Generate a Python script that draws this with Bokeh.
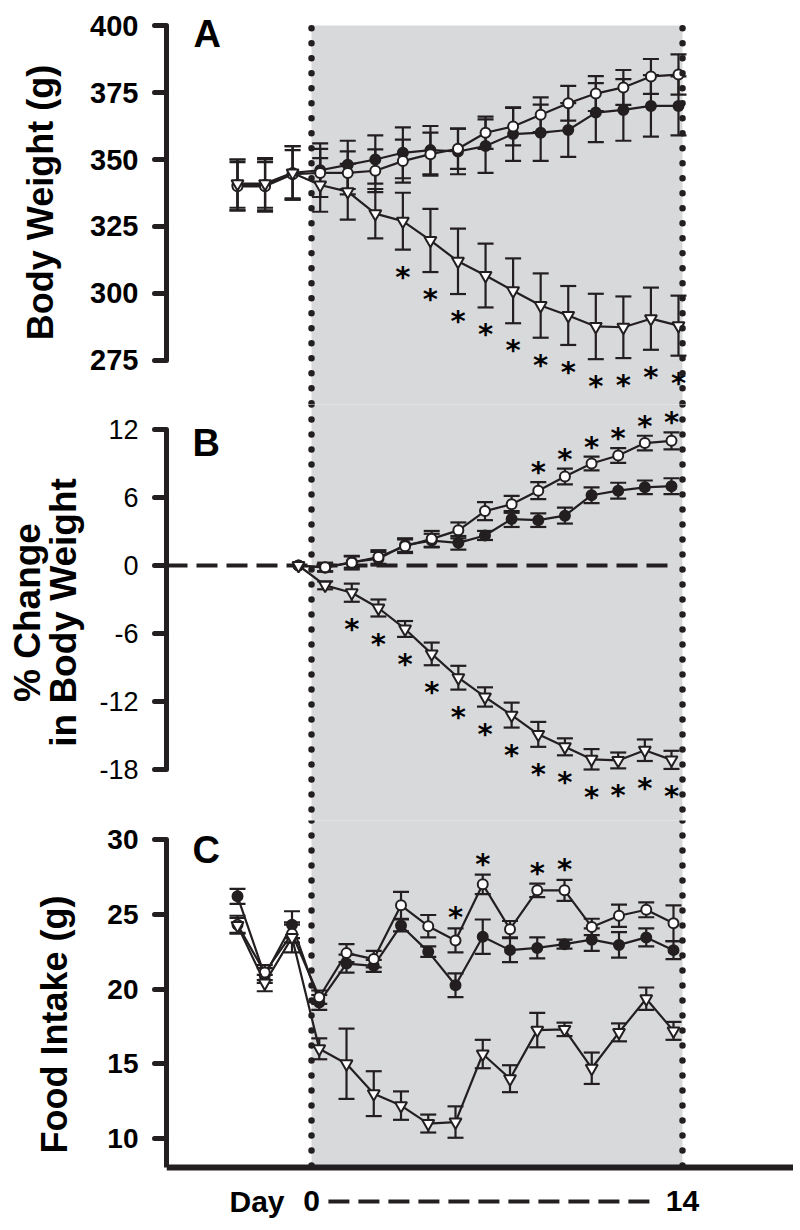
from bokeh.plotting import figure
from bokeh.layouts import column
from bokeh.models import (BoxAnnotation, ColumnDataSource, FixedTicker, Label,
                          Range1d, Span, Whisker, TeeHead)
from bokeh.core.properties import value
from bokeh.embed import file_html
from bokeh.resources import INLINE

# ---------------- data ----------------
# Panel A: body weight (g), days -3..13
A_days = list(range(-3, 14))
A_filled = [340.5, 340.5, 345, 346, 348, 350, 352.5, 353.5, 353, 355, 359.5, 360, 361, 367.5, 368.5, 370, 370]
A_filled_err = [9.5, 10, 10, 10, 9, 9, 9.5, 9, 8.5, 10, 10, 10.5, 10, 11, 11.5, 11.5, 11]
A_open = [340, 340, 344.5, 345, 345, 345.8, 349.4, 352, 354, 360, 362.3, 366.7, 371, 374.6, 376.9, 381, 381.7]
A_open_err = [9, 9, 9, 9, 8, 8, 8, 8, 7.5, 6, 7, 6.5, 6.5, 6.5, 6.5, 6.5, 7.5]
A_tri = [341, 341, 345, 340.5, 338, 329.8, 327, 319.8, 312, 306.7, 301, 295.5, 291.8, 287.7, 287.4, 290.6, 288]
A_tri_err = [9, 9, 10, 10, 10.4, 9.2, 10.6, 11.8, 12.2, 11.9, 12.1, 12, 11, 12.2, 11.5, 11.6, 11.2]
A_star_tri_days = [3, 4, 5, 6, 7, 8, 9, 10, 11, 12, 13]

# Panel B: % change in body weight, days -1..13
B_days = list(range(-1, 14))
B_filled = [0, -0.2, 0.3, 0.6, 1.8, 2.2, 2.0, 2.65, 4.1, 4.0, 4.4, 6.2, 6.6, 6.9, 7.0]
B_filled_err = [0, 0.3, 0.5, 0.6, 0.6, 0.6, 0.6, 0.4, 0.7, 0.6, 0.7, 0.7, 0.7, 0.6, 0.7]
B_open = [0, -0.15, 0.25, 0.75, 1.7, 2.35, 3.1, 4.8, 5.4, 6.6, 7.85, 9.0, 9.7, 10.8, 11.0]
B_open_err = [0, 0.4, 0.6, 0.6, 0.6, 0.7, 0.7, 0.8, 0.75, 0.75, 0.7, 0.6, 0.65, 0.65, 0.75]
B_tri = [0, -1.75, -2.4, -3.75, -5.6, -7.8, -9.9, -11.6, -13.2, -14.9, -16.0, -17.1, -17.2, -16.3, -17.15]
B_tri_err = [0, 0.35, 0.8, 0.75, 0.7, 1.0, 1.05, 0.85, 1.1, 1.1, 0.75, 0.9, 0.7, 0.95, 0.8]
B_star_tri_days = [1, 2, 3, 4, 5, 6, 7, 8, 9, 10, 11, 12, 13]
B_star_open_days = [8, 9, 10, 11, 12, 13]

# Panel C: food intake (g), days -3..13
C_days = list(range(-3, 14))
C_filled = [26.2, 20.9, 24.3, 19.1, 21.7, 21.55, 24.25, 22.5, 20.25, 23.5, 22.6, 22.75, 23.0, 23.3, 22.95, 23.45, 22.6]
C_filled_err = [0.5, 0.5, 0.9, 0.5, 0.6, 0.4, 0.4, 0.35, 0.8, 1.15, 0.8, 0.7, 0.3, 0.75, 0.85, 0.6, 0.6]
C_open = [24.3, 21.1, 23.7, 19.45, 22.4, 22.0, 25.6, 24.2, 23.25, 27.0, 24.0, 26.6, 26.6, 24.15, 24.9, 25.3, 24.4]
C_open_err = [0.6, 0.5, 0.6, 0.45, 0.6, 0.55, 0.9, 0.75, 0.8, 0.65, 0.55, 0.45, 0.7, 0.55, 0.75, 0.5, 1.2]
C_tri = [24.25, 20.4, 23.45, 16.0, 15.0, 13.0, 12.2, 11.0, 11.1, 15.65, 14.0, 17.25, 17.3, 14.7, 17.1, 19.35, 17.2]
C_tri_err = [0.5, 0.55, 1.0, 0.7, 2.35, 1.5, 0.95, 0.6, 1.05, 0.95, 0.9, 1.15, 0.45, 1.05, 0.6, 0.75, 0.6]
C_star_open_days = [5, 6, 8, 9]

A_ticks = [275, 300, 325, 350, 375, 400]
B_ticks = [-18, -12, -6, 0, 6, 12]
C_ticks = [10, 15, 20, 25, 30]
DAY_LABELS = ["Day", "0", "14"]

# ---------------- style / layout ----------------
INK = "#231f20"
SHADE = "#d8d9db"
FONT = "Liberation Sans"
STAR_FONT = "DejaVu Sans"
LEFT = 166
W = 793

# frames (page px): A 0-404, B 404-820, C 820-1228
A_XR, A_SHADE, A_YR = (-5.576, 17.173), (-0.315, 13.147), (258.58, 409.33)
B_XR, B_SHADE, B_YR = (-5.955, 17.58), (-0.512, 13.414), (-22.50, 14.206)
C_XR, C_SHADE, C_YR = (-5.606, 17.404), (-0.284, 13.330), (3.98, 31.271)
C_BASE = 8.06
SHADE_PX = (311, 682)   # shaded window on the page, to fill the joins between panels


def make_fig(h, xr, yr):
    p = figure(width=W, height=h, x_range=Range1d(*xr), y_range=Range1d(*yr),
               output_backend="svg", toolbar_location=None, x_axis_location=None,
               min_border_left=LEFT, min_border_right=0, min_border_top=0,
               min_border_bottom=0)
    p.outline_line_color = None
    p.grid.visible = False
    p.background_fill_color = "white"
    p.border_fill_color = "white"
    return p


def style_y(p, ticks, bounds, label, tick_fs, tick_style, lab_fs, lab_standoff, lh=1.1):
    ax = p.yaxis[0]
    ax.ticker = FixedTicker(ticks=ticks)
    ax.major_label_overrides = {t: str(t) for t in ticks}
    ax.bounds = bounds
    ax.axis_line_width = 5
    ax.axis_line_color = INK
    ax.major_tick_line_width = 5
    ax.major_tick_line_color = INK
    ax.major_tick_line_cap = "round"
    ax.major_tick_out = 12
    ax.major_tick_in = 0
    ax.minor_tick_line_color = None
    ax.major_label_standoff = 16
    ax.major_label_text_font = FONT
    ax.major_label_text_font_size = tick_fs
    ax.major_label_text_font_style = tick_style
    ax.major_label_text_color = "black"
    ax.axis_label = label
    ax.axis_label_text_font = FONT
    ax.axis_label_text_font_size = lab_fs
    ax.axis_label_text_font_style = "bold"
    ax.axis_label_text_color = "black"
    ax.axis_label_standoff = lab_standoff
    ax.axis_label_text_line_height = lh


def shade(p, sh, yr, top=None, bottom=None):
    span = yr[1] - yr[0]
    p.add_layout(BoxAnnotation(left=sh[0], right=sh[1],
                               top=top if top is not None else yr[1] + span,
                               bottom=bottom if bottom is not None else yr[0] - span,
                               fill_color=SHADE, fill_alpha=1, line_color=None,
                               level="image"))


def series(p, x, y, err, marker, fill, size):
    src = ColumnDataSource(dict(x=x, y=y, lo=[a - b for a, b in zip(y, err)],
                                hi=[a + b for a, b in zip(y, err)]))
    p.add_layout(Whisker(source=src, base="x", upper="hi", lower="lo", level="underlay",
                         line_width=2.2, line_color=INK,
                         upper_head=TeeHead(size=16, line_width=2.2, line_color=INK),
                         lower_head=TeeHead(size=16, line_width=2.2, line_color=INK)))
    p.line("x", "y", source=src, line_width=2.2, line_color=INK)
    p.scatter("x", "y", source=src, marker=marker, size=size, fill_color=fill,
              line_color=INK, line_width=2)
    return src


def stars(p, days, x, y, err, below, off):
    xs, ys = [], []
    for d in days:
        i = x.index(d)
        xs.append(d)
        ys.append(y[i] - err[i] if below else y[i] + err[i])
    p.text(xs, ys, text=["*"] * len(xs), text_font=value(STAR_FONT), text_font_size="29px",
           text_font_style="bold", text_align="center", text_baseline="middle",
           y_offset=off, text_color="black")


def dotted(p, sh, y0, y1):
    p.segment(x0=[sh[0], sh[1]], y0=[y0, y0], x1=[sh[0], sh[1]], y1=[y1, y1],
              line_color=INK, line_width=6.5, line_dash="0 15", line_cap="round")


def panel_letter(p, x, y, t):
    p.add_layout(Label(x=x, y=y, text=t, text_font=FONT, text_font_size="38px",
                       text_font_style="bold", text_color="black", text_baseline="middle"))


# ---------------- Panel A ----------------
pA = make_fig(404, A_XR, A_YR)
style_y(pA, A_ticks, (A_ticks[0], A_ticks[-1]), "Body Weight (g)", "29px", "bold", "36px", 26)
shade(pA, A_SHADE, A_YR, top=A_ticks[-1])
series(pA, A_days, A_filled, A_filled_err, "circle", INK, 10)
series(pA, A_days, A_open, A_open_err, "circle", "white", 10)
series(pA, A_days, A_tri, A_tri_err, "inverted_triangle", "white", 12)
stars(pA, A_star_tri_days, A_days, A_tri, A_tri_err, True, 27)
dotted(pA, A_SHADE, A_ticks[-1] - 1, A_YR[0])
panel_letter(pA, -4.6, 396.8, "A")

# ---------------- Panel B ----------------
pB = make_fig(416, B_XR, B_YR)
style_y(pB, B_ticks, (B_ticks[0], B_ticks[-1]), "% Change\nin Body Weight", "27px", "normal",
        "37px", 12, lh=0.88)
shade(pB, B_SHADE, B_YR)
pB.segment(x0=[B_XR[0]], y0=[0], x1=[12.85], y1=[0], line_color=INK, line_width=4,
           line_dash="21 9")
series(pB, B_days, B_filled, B_filled_err, "circle", INK, 10)
series(pB, B_days, B_open, B_open_err, "circle", "white", 10)
series(pB, B_days, B_tri, B_tri_err, "inverted_triangle", "white", 12)
stars(pB, B_star_tri_days, B_days, B_tri, B_tri_err, True, 27)
stars(pB, B_star_open_days, B_days, B_open, B_open_err, False, -10)
dotted(pB, B_SHADE, B_YR[1], B_YR[0])
panel_letter(pB, -4.98, 10.81, "B")

# ---------------- Panel C ----------------
pC = make_fig(408, C_XR, C_YR)
style_y(pC, C_ticks, (C_BASE, C_ticks[-1]), "Food Intake (g)", "28px", "bold", "36px", 29)
shade(pC, C_SHADE, C_YR, bottom=C_BASE)
series(pC, C_days, C_filled, C_filled_err, "circle", INK, 10)
series(pC, C_days, C_open, C_open_err, "circle", "white", 10)
series(pC, C_days, C_tri, C_tri_err, "inverted_triangle", "white", 12)
stars(pC, C_star_open_days, C_days, C_open, C_open_err, False, -11)
dotted(pC, C_SHADE, C_YR[1], C_BASE)
pC.add_layout(Span(location=C_BASE, dimension="width", line_color=INK, line_width=6))
panel_letter(pC, -4.65, 29.33, "C")
# "Day 0 - - - 14" row
DAY_Y = 5.79
pC.text([C_SHADE[0], C_SHADE[0], C_SHADE[1]], [DAY_Y] * 3, text=DAY_LABELS,
        x_offset=[-27, 0, 0], text_align=["right", "center", "center"],
        text_font=value(FONT), text_font_size="30px", text_font_style="bold",
        text_baseline="middle", text_color="black")
pC.segment(x0=[C_SHADE[0] + 0.62], y0=[DAY_Y], x1=[C_SHADE[1] - 1.06], y1=[DAY_Y],
           line_color=INK, line_width=4, line_dash="21 9")

bg = (f"linear-gradient(to right, white {SHADE_PX[0]}px, {SHADE} {SHADE_PX[0]}px, "
      f"{SHADE} {SHADE_PX[1]}px, white {SHADE_PX[1]}px)")
layout = column(pA, pB, pC, spacing=0,
                styles={"background-color": "white", "background-image": bg,
                        "background-size": "100% 1120px", "background-position": "0 40px",
                        "background-repeat": "no-repeat"})
open("out.html", "w").write(file_html(layout, INLINE))
